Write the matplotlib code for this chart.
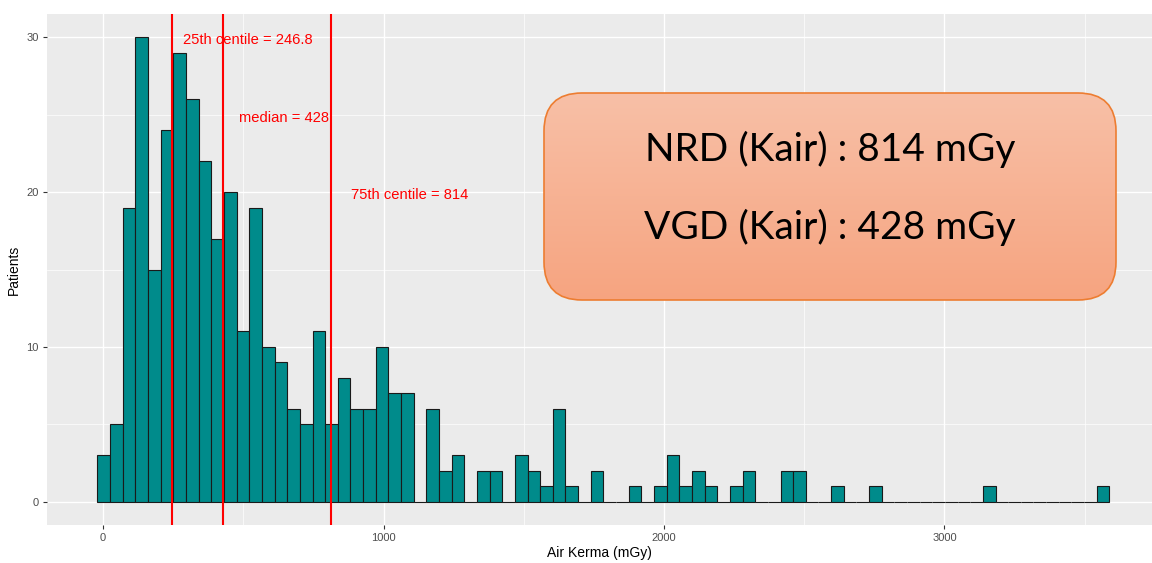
import numpy as np
import matplotlib
matplotlib.use("Agg")
import matplotlib.pyplot as plt
from matplotlib.patches import FancyBboxPatch

# histogram counts (80 bins)
counts = [3, 5, 19, 30, 15, 24, 29, 26, 22, 17,
          20, 11, 19, 10, 9, 6, 5, 11, 5, 8,
          6, 6, 10, 7, 7, 0, 6, 2, 3, 0,
          2, 2, 0, 3, 2, 1, 6, 1, 0, 2,
          0, 0, 1, 0, 1, 3, 1, 2, 1, 0,
          1, 2, 0, 0, 2, 2, 0, 0, 1, 0,
          0, 1, 0, 0, 0, 0, 0, 0, 0, 0,
          1, 0, 0, 0, 0, 0, 0, 0, 0, 1]
bin_start = -20.0
bin_width = 45.1

centiles = [246.8, 428, 814]
centile_labels = ["25th centile = 246.8", "median = 428", "75th centile = 814"]
label_x = [517, 645, 1094]
label_y = [29.8, 24.8, 19.8]

box_lines = ["NRD (Kair) : 814 mGy", "VGD (Kair) : 428 mGy"]

plt.rcParams['font.family'] = ['Liberation Sans', 'DejaVu Sans']

fig = plt.figure(figsize=(11.52, 5.63), dpi=100)
ax = fig.add_axes([47/1152, 38/563, 1 - 47/1152, (525-14)/563])
ax.set_facecolor('#EBEBEB')

edges = bin_start + bin_width * np.arange(len(counts))
ax.bar(edges, counts, width=bin_width, align='edge', color='#008B8B',
       edgecolor='#1a1a1a', linewidth=0.8, zorder=3)

for v in centiles:
    ax.axvline(v, color='red', linewidth=1.5, zorder=4)
for t, lx, ly in zip(centile_labels, label_x, label_y):
    ax.text(lx, ly, t, color='red', fontsize=10.6, ha='center', va='center', zorder=5)

ax.set_xlim(-200, 3740)
ax.set_ylim(-1.5, 31.5)
ax.set_xticks([0, 1000, 2000, 3000])
ax.set_yticks([0, 10, 20, 30])
ax.set_xticks([500, 1500, 2500, 3500], minor=True)
ax.set_yticks([5, 15, 25], minor=True)
ax.grid(which='major', color='white', linewidth=1.0, zorder=0)
ax.grid(which='minor', color='white', linewidth=0.5, zorder=0)
ax.set_axisbelow(True)
for s in ax.spines.values():
    s.set_visible(False)
ax.tick_params(which='major', length=3, width=0.8, color='#333333',
               labelsize=8, labelcolor='#4D4D4D', pad=3)
ax.tick_params(which='minor', length=0)
ax.set_xlabel("Air Kerma (mGy)", fontsize=10, labelpad=2)
ax.set_ylabel("Patients", fontsize=10, labelpad=4)

# gradient rounded box
bx0, by0, bw, bh = 543, 563 - 301, 574, 209
bax = fig.add_axes([bx0/1152, by0/563, bw/1152, bh/563])
bax.axis('off')
grad = np.linspace(0, 1, 100).reshape(-1, 1)
c_top = np.array([248, 192, 167]) / 255
c_bot = np.array([246, 164, 128]) / 255
img = c_top + (c_bot - c_top) * grad[:, :, None]
im = bax.imshow(img, extent=[0, bw, 0, bh], origin='upper', aspect='auto', zorder=1)
box = FancyBboxPatch((1, 1), bw - 2, bh - 2, boxstyle="round,pad=0,rounding_size=38",
                     facecolor='none', edgecolor='#ED7D31', linewidth=1.2, zorder=2)
bax.add_patch(box)
im.set_clip_path(box)
bax.set_xlim(0, bw)
bax.set_ylim(0, bh)
bax.text(bw/2, bh - 57, box_lines[0], fontsize=28, family=['Lato', 'DejaVu Sans'],
         ha='center', va='center', zorder=3)
bax.text(bw/2, bh - 135, box_lines[1], fontsize=28, family=['Lato', 'DejaVu Sans'],
         ha='center', va='center', zorder=3)

fig.savefig("out.png", dpi=100)
